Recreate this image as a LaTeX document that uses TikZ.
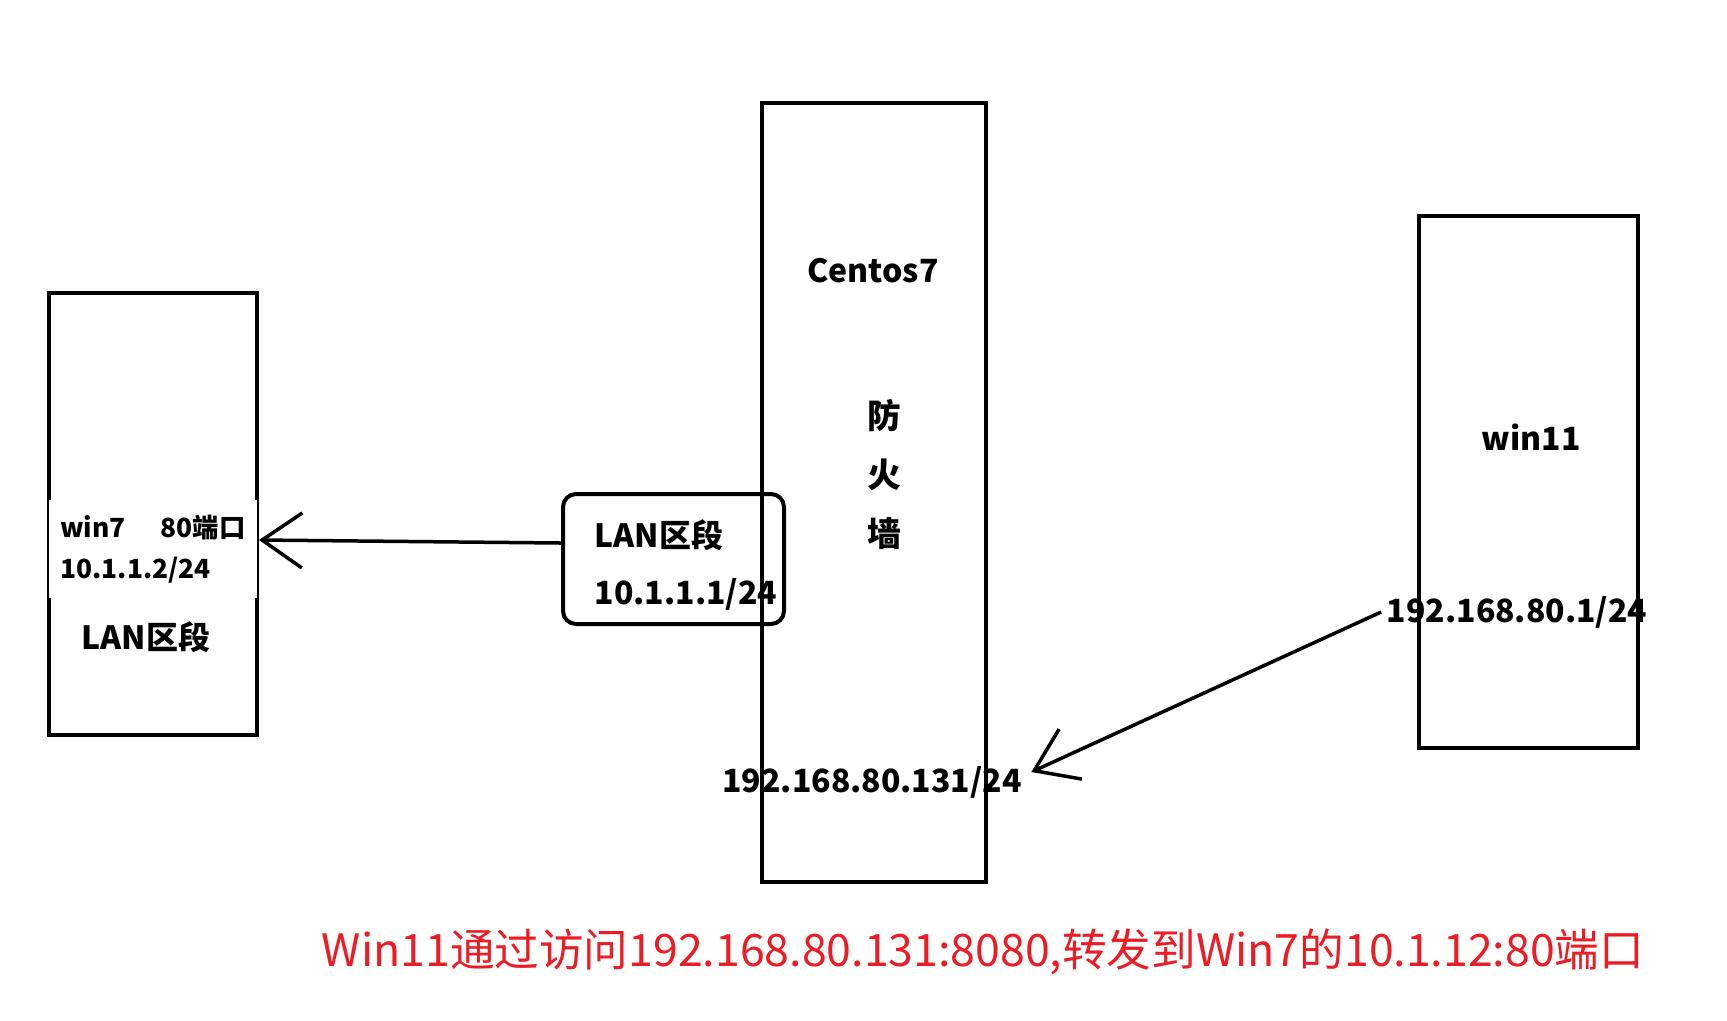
\documentclass[tikz,border=0pt]{standalone}
\usepackage{fontspec}
\usepackage{tikz}
\usetikzlibrary{positioning,arrows.meta}
\newfontfamily\cjk{Noto Sans CJK SC}
\definecolor{paintred}{RGB}{237,28,36}
\tikzstyle{host}=[%
      rectangle, draw=black, line width=0.4mm, fill=none, inner sep=0pt
]
\tikzstyle{seg}=[%
      rectangle, rounded corners=1.3mm, draw=black, line width=0.4mm, fill=none,
      minimum width=22.1mm, minimum height=13mm, inner sep=0pt
]
\tikzstyle{lbl}=[%
      font=\cjk\bfseries\fontsize{9.1}{16}\selectfont, inner sep=0pt, align=left
]
\tikzstyle{note}=[%
      font=\cjk\fontsize{12.7}{14}\selectfont, text=paintred, inner sep=0pt
]

\begin{document}
\begin{tikzpicture}[x=0.1mm, y=-0.1mm,
    >={Straight Barb[length=4mm,width=5.5mm]},
    line width=0.35mm,
]
    \useasboundingbox (0,0) rectangle (1727,1020);

    % hosts
    \node[host, minimum width=20.8mm, minimum height=44.2mm] (win7)   at (153,514)  {};
    \node[host, minimum width=22.4mm, minimum height=77.9mm] (centos) at (874,492)  {};
    \node[host, minimum width=21.9mm, minimum height=53.2mm] (win11)  at (1528,482) {};

    % lan side of the firewall
    \node[seg] (lanseg) at (673.5,559) {};
    \node[lbl, anchor=west] (lantext) at (593,565) {LAN区段\\10.1.1.1/24};

    \node[lbl, fill=white, minimum width=20.8mm, minimum height=9.8mm,
          font=\cjk\bfseries\fontsize{7.5}{11.7}\selectfont] (win7ip) at (153,549)
          {win7\hspace{3.5mm}80端口\\10.1.1.2/24};
    \node[lbl] (win7seg)    at (146,637)  {LAN区段};
    \node[lbl] (centosname) at (873,271)  {Centos7};
    \node[lbl, align=center, font=\cjk\bfseries\fontsize{9.6}{16.8}\selectfont]
               (fw)         at (884,474)  {防\\火\\墙};
    \node[lbl] (win11name)  at (1531,437) {win11};
    \node[lbl] (win11ip)    at (1517,612) {192.168.80.1/24};
    \node[lbl] (centosip)   at (872,782)  {192.168.80.131/24};

    \node[note] (summary) at (983,952)
          {Win11通过访问192.168.80.131:8080,转发到Win7的10.1.12:80端口};

    \draw[->] ([yshift=1.6mm]lanseg.west) -- ([yshift=-2.6mm]win7.east);
    \draw[->] ([xshift=-0.4mm]win11ip.west) -- ([xshift=0.8mm,yshift=1mm]centosip.east);
\end{tikzpicture}
\end{document}
